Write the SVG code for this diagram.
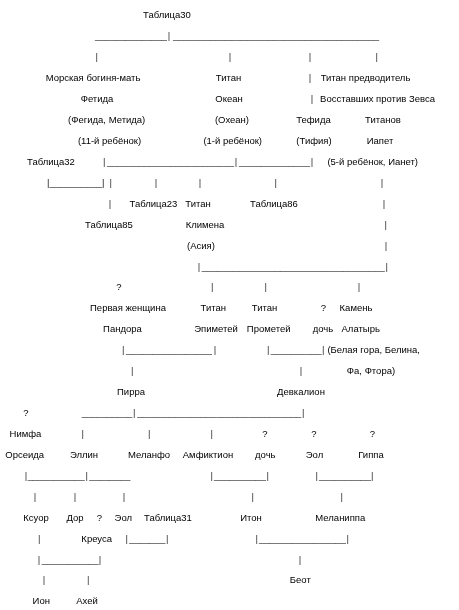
<svg xmlns="http://www.w3.org/2000/svg" width="459" height="610" viewBox="0 0 459 610">
<style>
text{font-family:"Liberation Sans",Arial,sans-serif;font-size:9.5px;fill:#000}
.t{text-anchor:middle}
.p{text-anchor:middle;fill:#333}
.u{text-anchor:start;fill:#222}
</style>
<defs>
<filter id="gray" x="0" y="0" width="459" height="610" filterUnits="userSpaceOnUse"><feColorMatrix type="saturate" values="0"/></filter>
</defs>
<rect width="459" height="610" fill="#fff"/>
<g filter="url(#gray)">
<g id="connectors">
<text class="u" x="95" y="39.2" textLength="72" lengthAdjust="spacingAndGlyphs">______________</text>
<text class="p" x="169" y="39.2">|</text>
<text class="u" x="173" y="39.2" textLength="206" lengthAdjust="spacingAndGlyphs">_______________________________________</text>
<text class="p" x="96.7" y="60.2">|</text>
<text class="p" x="230" y="60.2">|</text>
<text class="p" x="310" y="60.2">|</text>
<text class="p" x="376.7" y="60.2">|</text>
<text class="p" x="310" y="81.1">|</text>
<text class="p" x="312" y="102">|</text>
<text class="p" x="104.3" y="164.8">|</text>
<text class="u" x="107" y="164.8" textLength="127" lengthAdjust="spacingAndGlyphs">________________________</text>
<text class="p" x="236" y="164.8">|</text>
<text class="u" x="239" y="164.8" textLength="71" lengthAdjust="spacingAndGlyphs">_____________</text>
<text class="p" x="312" y="164.8">|</text>
<text class="u" x="47" y="185.7" textLength="57.5" lengthAdjust="spacingAndGlyphs">|__________|</text>
<text class="p" x="110.7" y="185.7">|</text>
<text class="p" x="156" y="185.7">|</text>
<text class="p" x="200" y="185.7">|</text>
<text class="p" x="275.7" y="185.7">|</text>
<text class="p" x="382" y="185.7">|</text>
<text class="p" x="110" y="206.7">|</text>
<text class="p" x="384" y="206.7">|</text>
<text class="p" x="385.7" y="227.6">|</text>
<text class="p" x="386" y="248.5">|</text>
<text class="p" x="199" y="269.5">|</text>
<text class="u" x="201.7" y="269.5" textLength="183" lengthAdjust="spacingAndGlyphs">___________________________________</text>
<text class="p" x="386.7" y="269.5">|</text>
<text class="p" x="212.3" y="290.4">|</text>
<text class="p" x="265.7" y="290.4">|</text>
<text class="p" x="359" y="290.4">|</text>
<text class="p" x="123.3" y="353.2">|</text>
<text class="u" x="126" y="353.2" textLength="86" lengthAdjust="spacingAndGlyphs">________________</text>
<text class="p" x="215" y="353.2">|</text>
<text class="p" x="268.3" y="353.2">|</text>
<text class="u" x="270.7" y="353.2" textLength="51" lengthAdjust="spacingAndGlyphs">__________</text>
<text class="p" x="323.3" y="353.2">|</text>
<text class="p" x="132.3" y="374.1">|</text>
<text class="p" x="301" y="374.1">|</text>
<text class="u" x="81.7" y="416" textLength="50.6" lengthAdjust="spacingAndGlyphs">__________</text>
<text class="p" x="134.3" y="416">|</text>
<text class="u" x="137.3" y="416" textLength="164" lengthAdjust="spacingAndGlyphs">_______________________________</text>
<text class="p" x="303.3" y="416">|</text>
<text class="p" x="82.7" y="436.9">|</text>
<text class="p" x="149.3" y="436.9">|</text>
<text class="p" x="211.7" y="436.9">|</text>
<text class="p" x="26" y="478.7">|</text>
<text class="u" x="27.7" y="478.7" textLength="57" lengthAdjust="spacingAndGlyphs">___________</text>
<text class="p" x="86.7" y="478.7">|</text>
<text class="u" x="89.3" y="478.7" textLength="41" lengthAdjust="spacingAndGlyphs">________</text>
<text class="p" x="211.7" y="478.7">|</text>
<text class="u" x="214" y="478.7" textLength="52" lengthAdjust="spacingAndGlyphs">__________</text>
<text class="p" x="267.7" y="478.7">|</text>
<text class="p" x="316.7" y="478.7">|</text>
<text class="u" x="319" y="478.7" textLength="52" lengthAdjust="spacingAndGlyphs">__________</text>
<text class="p" x="372.3" y="478.7">|</text>
<text class="p" x="35" y="499.7">|</text>
<text class="p" x="75" y="499.7">|</text>
<text class="p" x="124" y="499.7">|</text>
<text class="p" x="252.7" y="499.7">|</text>
<text class="p" x="341.7" y="499.7">|</text>
<text class="p" x="39.3" y="541.5">|</text>
<text class="p" x="126.7" y="541.5">|</text>
<text class="u" x="129.3" y="541.5" textLength="36" lengthAdjust="spacingAndGlyphs">_______</text>
<text class="p" x="167.3" y="541.5">|</text>
<text class="p" x="256.7" y="541.5">|</text>
<text class="u" x="259" y="541.5" textLength="87" lengthAdjust="spacingAndGlyphs">________________</text>
<text class="p" x="347.7" y="541.5">|</text>
<text class="p" x="39" y="562.5">|</text>
<text class="u" x="41.7" y="562.5" textLength="57" lengthAdjust="spacingAndGlyphs">___________</text>
<text class="p" x="100" y="562.5">|</text>
<text class="p" x="300" y="562.5">|</text>
<text class="p" x="44" y="583.4">|</text>
<text class="p" x="88.3" y="583.4">|</text>
</g>
<g id="table30"><text class="t" x="167" y="18.3">Таблица30</text></g>
<g id="fetida">
<text class="t" x="93" y="81.1">Морская богиня-мать</text>
<text class="t" x="97" y="102">Фетида</text>
<text class="t" x="106.7" y="123">(Фегида, Метида)</text>
<text class="t" x="109.5" y="143.9">(11-й ребёнок)</text>
</g>
<g id="okean">
<text class="t" x="228.5" y="81.1">Титан</text>
<text class="t" x="229" y="102">Океан</text>
<text class="t" x="232" y="123">(Охеан)</text>
<text class="t" x="232.7" y="143.9">(1-й ребёнок)</text>
</g>
<g id="tefida">
<text class="t" x="313.5" y="123">Тефида</text>
<text class="t" x="314" y="143.9">(Тифия)</text>
</g>
<g id="iapet">
<text class="t" x="365.5" y="81.1">Титан предводитель</text>
<text class="t" x="377.5" y="102">Восставших против Зевса</text>
<text class="t" x="383" y="123">Титанов</text>
<text class="t" x="380" y="143.9">Иапет</text>
<text class="t" x="372.7" y="164.8">(5-й ребёнок, Ианет)</text>
</g>
<g id="table32"><text class="t" x="51" y="164.8">Таблица32</text></g>
<g id="table23"><text class="t" x="153.5" y="206.7">Таблица23</text></g>
<g id="klimena">
<text class="t" x="198" y="206.7">Титан</text>
<text class="t" x="205" y="227.6">Климена</text>
<text class="t" x="201" y="248.5">(Асия)</text>
</g>
<g id="table86"><text class="t" x="274" y="206.7">Таблица86</text></g>
<g id="table85"><text class="t" x="109" y="227.6">Таблица85</text></g>
<g id="pandora">
<text class="t" x="119" y="290.4">?</text>
<text class="t" x="128" y="311.3">Первая женщина</text>
<text class="t" x="122.5" y="332.2">Пандора</text>
</g>
<g id="epimetey">
<text class="t" x="213.3" y="311.3">Титан</text>
<text class="t" x="216" y="332.2">Эпиметей</text>
</g>
<g id="prometey">
<text class="t" x="264.5" y="311.3">Титан</text>
<text class="t" x="268.7" y="332.2">Прометей</text>
</g>
<g id="doch1">
<text class="t" x="323.3" y="311.3">?</text>
<text class="t" x="323" y="332.2">дочь</text>
</g>
<g id="kamen">
<text class="t" x="356" y="311.3">Камень</text>
<text class="t" x="360.7" y="332.2">Алатырь</text>
<text class="t" x="373.7" y="353.2">(Белая гора, Белина,</text>
<text class="t" x="371" y="374.1">Фа, Фтора)</text>
</g>
<g id="pirra"><text class="t" x="131" y="395">Пирра</text></g>
<g id="devkalion"><text class="t" x="301" y="395">Девкалион</text></g>
<g id="orseida">
<text class="t" x="26" y="416">?</text>
<text class="t" x="25.5" y="436.9">Нимфа</text>
<text class="t" x="24.7" y="457.8">Орсеида</text>
</g>
<g id="ellin"><text class="t" x="84" y="457.8">Эллин</text></g>
<g id="melanfo"><text class="t" x="149" y="457.8">Меланфо</text></g>
<g id="amfiktion"><text class="t" x="208" y="457.8">Амфиктион</text></g>
<g id="doch2">
<text class="t" x="265" y="436.9">?</text>
<text class="t" x="265.3" y="457.8">дочь</text>
</g>
<g id="eol1">
<text class="t" x="314" y="436.9">?</text>
<text class="t" x="314.5" y="457.8">Эол</text>
</g>
<g id="gippa">
<text class="t" x="372.3" y="436.9">?</text>
<text class="t" x="371" y="457.8">Гиппа</text>
</g>
<g id="ksuor"><text class="t" x="36" y="520.6">Ксуор</text></g>
<g id="dor"><text class="t" x="75" y="520.6">Дор</text></g>
<g id="unknown"><text class="t" x="99.3" y="520.6">?</text></g>
<g id="eol2"><text class="t" x="123.3" y="520.6">Эол</text></g>
<g id="table31"><text class="t" x="168" y="520.6">Таблица31</text></g>
<g id="iton"><text class="t" x="251" y="520.6">Итон</text></g>
<g id="melanippa"><text class="t" x="340.3" y="520.6">Меланиппа</text></g>
<g id="kreusa"><text class="t" x="96.7" y="541.5">Креуса</text></g>
<g id="beot"><text class="t" x="300.3" y="583.4">Беот</text></g>
<g id="ion"><text class="t" x="41.3" y="604.3">Ион</text></g>
<g id="ahey"><text class="t" x="87" y="604.3">Ахей</text></g>
</g>
</svg>
